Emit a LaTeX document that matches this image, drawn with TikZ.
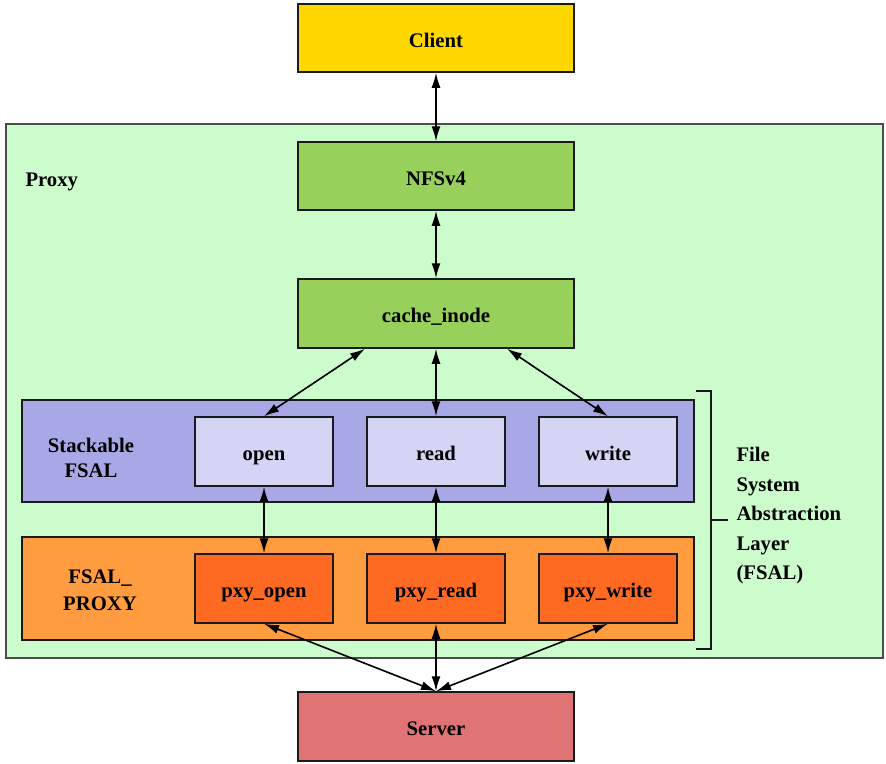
\documentclass[tikz,border=0pt]{standalone}
\usepackage{fontspec}
\setmainfont{Liberation Serif}
\usetikzlibrary{arrows.meta}
\definecolor{clientc}{HTML}{FFD700}
\definecolor{proxyc}{HTML}{CCFCCC}
\definecolor{greenc}{HTML}{98D05C}
\definecolor{stackc}{HTML}{A8A8E6}
\definecolor{opc}{HTML}{D4D4F4}
\definecolor{fsalpc}{HTML}{FF9C40}
\definecolor{pxyc}{HTML}{FF6A22}
\definecolor{serverc}{HTML}{E07474}
\definecolor{edgec}{HTML}{1A1A1A}
\begin{document}
\begin{tikzpicture}[x=1pt,y=-1pt,
  font=\fontsize{20.7}{25}\selectfont\bfseries,
  box/.style={draw=edgec,line width=1.5pt,rectangle,inner sep=0pt},
  lbl/.style={text height=18pt,text depth=0pt},
  bigbox/.style={box,lbl,minimum width=276pt,minimum height=68pt},
  opbox/.style={box,lbl,minimum width=138pt,minimum height=69pt},
  band/.style={box,minimum width=672pt,minimum height=102pt},
  link/.style={line width=1.6pt,draw=black,{Latex[length=15pt,width=9pt]}-{Latex[length=15pt,width=9pt]}}]
\useasboundingbox (0,0) rectangle (886,763);
% proxy container
\node[box,draw=black!70,fill=proxyc,minimum width=877pt,minimum height=534pt] (proxy) at (444.5,391) {};
\node[anchor=west,lbl] (proxylbl) at (22,177) {Proxy};
% top-level boxes
\node[bigbox,fill=clientc] (client) at (436,38) {Client};
\node[bigbox,fill=greenc] (nfs) at (436,176) {NFSv4};
\node[bigbox,fill=greenc,minimum height=69pt] (cache) at (436,313.5) {cache\_inode};
\node[bigbox,fill=serverc,minimum height=69pt] (server) at (436,726.5) {Server};
% stackable FSAL band
\node[band,fill=stackc] (stack) at (358,451) {};
\node[align=center,font=\fontsize{20.7}{25}\selectfont\bfseries] (stacklbl) at (91,458) {Stackable\\FSAL};
\node[opbox,fill=opc] (open) at (264,451.5) {open};
\node[opbox,fill=opc] (read) at (436,451.5) {read};
\node[opbox,fill=opc] (write) at (608,451.5) {write};
% FSAL_PROXY band
\node[band,fill=fsalpc,minimum height=103pt] (fsalp) at (358,588.5) {};
\node[align=center,font=\fontsize{20.7}{27}\selectfont\bfseries] (fsalplbl) at (100,590) {FSAL\_\\PROXY};
\node[opbox,fill=pxyc] (popen) at (264,588.5) {pxy\_open};
\node[opbox,fill=pxyc] (pread) at (436,588.5) {pxy\_read};
\node[opbox,fill=pxyc] (pwrite) at (608,588.5) {pxy\_write};
% FSAL bracket and label
\coordinate (brt) at (696,391);
\coordinate (brb) at (696,649);
\coordinate (brm) at (711,520);
\coordinate (brtick) at (728,520);
\draw[line width=1.3pt,edgec] (brt) -- ++(15,0) |- (brb);
\draw[line width=1.3pt,edgec] (brm) -- (brtick);
\node[anchor=west,align=left,font=\fontsize{20.7}{29.5}\selectfont\bfseries] (fsallbl) at (733,516) {File\\System\\Abstraction\\Layer\\(FSAL)};
% connectors
\draw[link] (client.south) -- (nfs.north);
\draw[link] (nfs.south) -- (cache.north);
\draw[link] ([xshift=-71pt]cache.south) -- (open.north);
\draw[link] (cache.south) -- (read.north);
\draw[link] ([xshift=71pt]cache.south) -- (write.north);
\draw[link] (open.south) -- (popen.north);
\draw[link] (read.south) -- (pread.north);
\draw[link] (write.south) -- (pwrite.north);
\draw[link] (popen.south) -- (server.north);
\draw[link] (pread.south) -- (server.north);
\draw[link] (pwrite.south) -- (server.north);
\end{tikzpicture}
\end{document}
